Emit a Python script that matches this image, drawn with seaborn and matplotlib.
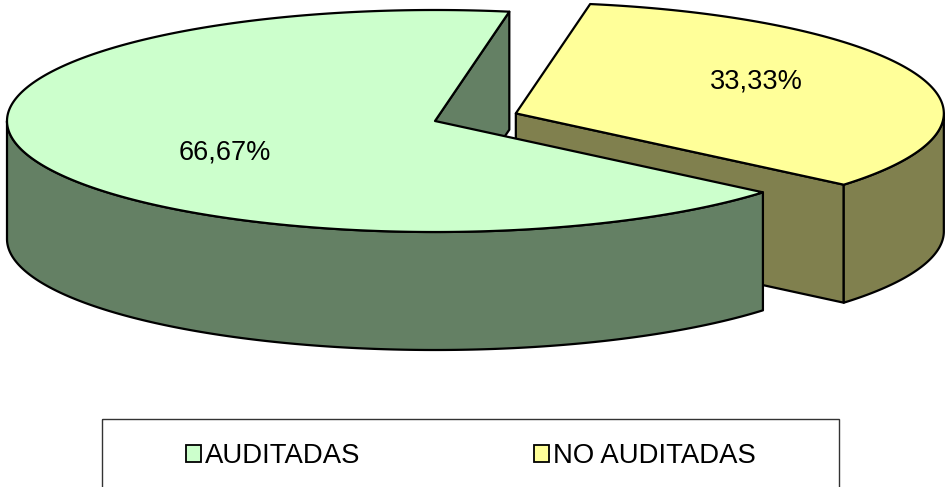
import numpy as np
import matplotlib
matplotlib.use("Agg")
import matplotlib.pyplot as plt
import seaborn as sns
from matplotlib.patches import Polygon, Rectangle, Patch

# ---- data ----
categories = ["AUDITADAS", "NO AUDITADAS"]
values = [66.67, 33.33]
value_labels = ["66,67%", "33,33%"]
top_colors = ["#CCFFCC", "#FFFF99"]
side_colors = ["#648064", "#80804E"]
explode = [0.0, 0.201]

sns.set_theme(style="white")
plt.rcParams['font.family'] = ['Liberation Sans', 'DejaVu Sans']
plt.rcParams['text.color'] = 'black'

W, H = 947, 487
fig = plt.figure(figsize=(W / 100, H / 100), dpi=100)
ax = fig.add_axes([0, 0, 1, 1])
ax.set_xlim(0, W)
ax.set_ylim(H, 0)
ax.axis('off')

# layout of the 3D pie (pixels)
CX, CY, RX, RY, DEPTH = 435, 121, 428, 111, 118
START = 80.0
LW = 1.6

fracs = np.array(values) / np.sum(values)
bounds = START + 360 * np.concatenate([[0], np.cumsum(fracs)])


def pt(t, cx, cy, dz=0.0):
    r = np.radians(t)
    return np.column_stack([cx + RX * np.cos(r), cy - RY * np.sin(r) + dz])


def front_intervals(a, b):
    out = []
    for k in range(-2, 3):
        lo, hi = 180 + 360 * k, 360 + 360 * k
        s, e = max(a, lo), min(b, hi)
        if e > s:
            out.append((s, e))
    return out


slices = []
for i in range(len(values)):
    a, b = bounds[i], bounds[i + 1]
    m = np.radians((a + b) / 2)
    cx = CX + explode[i] * RX * np.cos(m)
    cy = CY - explode[i] * RY * np.sin(m)
    slices.append((i, a, b, cx, cy, np.sin(m)))

# back slices first
slices.sort(key=lambda s: -s[5])

for i, a, b, cx, cy, _ in slices:
    kw = dict(edgecolor="black", linewidth=LW, joinstyle="round")
    # radial faces
    for ang, vis in ((a, np.cos(np.radians(a)) > 0), (b, np.cos(np.radians(b)) < 0)):
        if vis:
            p = pt(ang, cx, cy)[0]
            poly = np.array([[cx, cy], p, p + [0, DEPTH], [cx, cy + DEPTH]])
            ax.add_patch(Polygon(poly, closed=True, facecolor=side_colors[i], **kw))
    # curved outer wall
    for s, e in front_intervals(a, b):
        t = np.linspace(s, e, 200)
        topa = pt(t, cx, cy)
        bot = pt(t[::-1], cx, cy, DEPTH)
        ax.add_patch(Polygon(np.vstack([topa, bot]), closed=True,
                             facecolor=side_colors[i], **kw))
    # top face
    t = np.linspace(a, b, 400)
    poly = np.vstack([[cx, cy], pt(t, cx, cy)])
    ax.add_patch(Polygon(poly, closed=True, facecolor=top_colors[i], **kw))
    # value label
    m = np.radians((a + b) / 2)
    lx = cx + 0.56 * RX * np.cos(m) + 15
    ly = cy - 0.84 * RY * np.sin(m)
    ax.text(lx, ly, value_labels[i], ha="center", va="center",
            fontsize=19.5, color="black")

# legend frame (bottom edge lies outside the picture)
ax.add_patch(Rectangle((102, 419), 737, 120, fill=False, edgecolor="#333333",
                       linewidth=1.0))
handles = [Patch(facecolor=c, edgecolor="black", linewidth=1.3) for c in top_colors]
fig.legend(handles, categories, loc="center", bbox_to_anchor=(471 / W, 1 - 456 / H),
           ncol=2, frameon=False, fontsize=19.8, handlelength=0.55,
           handleheight=0.55, handletextpad=0.15, columnspacing=6.3,
           labelcolor="black")

fig.savefig("out.png", dpi=100)
